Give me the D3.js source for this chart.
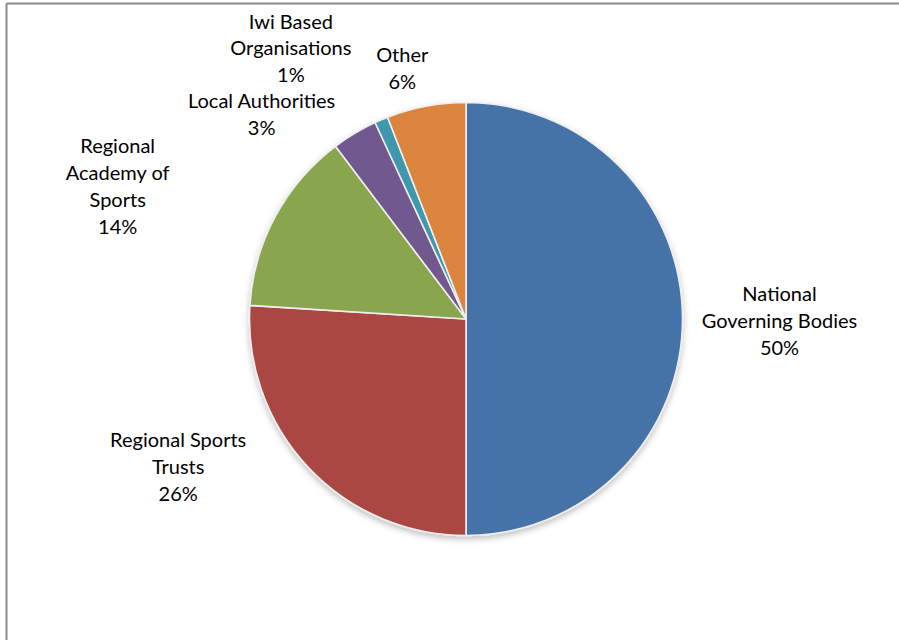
<!DOCTYPE html>
<html>
<head>
<meta charset="utf-8">
<script src="https://cdn.jsdelivr.net/npm/d3@7"></script>
<style>
  html, body { margin: 0; padding: 0; background: #fff; }
  svg text { font-family: Lato, "Open Sans", sans-serif; font-size: 20px; fill: #000; }
</style>
</head>
<body>
<div id="chart"></div>
<script>
// data
const categories = ["National Governing Bodies", "Regional Sports Trusts", "Regional Academy of Sports",
                    "Local Authorities", "Iwi Based Organisations", "Other"];
const shares = [50, 26, 13.7, 3.4, 1, 5.9];
const shareLabels = ["50%", "26%", "14%", "3%", "1%", "6%"];
const labelLines = [
  ["National", "Governing Bodies"],
  ["Regional Sports", "Trusts"],
  ["Regional", "Academy of", "Sports"],
  ["Local Authorities"],
  ["Iwi Based", "Organisations"],
  ["Other"]
];
const colours = ["#4572A7", "#AA4643", "#89A54E", "#71588F", "#4198AF", "#DB843D"];

// layout
const width = 899, height = 640;
const cx = 466, cy = 319, radius = 216.5;
const lineStep = 26.8;
// label nudges away from the label-arc anchor (Excel had them dragged around)
const labelNudge = [[27, 2], [-79, -48], [-96, 3], [-57, 41], [-63, -7], [-11, 31]];

const svg = d3.select("#chart").append("svg")
  .attr("width", width)
  .attr("height", height);

const defs = svg.append("defs");
const shadow = defs.append("filter").attr("id", "shadow")
  .attr("x", "-10%").attr("y", "-10%").attr("width", "120%").attr("height", "125%");
shadow.append("feDropShadow")
  .attr("dx", 0).attr("dy", 3).attr("stdDeviation", 3)
  .attr("flood-color", "#000").attr("flood-opacity", 0.25);

// chart frame (only top and left edges show in the crop)
svg.append("line").attr("x1", 6.5).attr("y1", 3.5).attr("x2", width).attr("y2", 3.5)
  .attr("stroke", "#8a8a8a").attr("stroke-width", 2);
svg.append("line").attr("x1", 6.5).attr("y1", 3.5).attr("x2", 6.5).attr("y2", height)
  .attr("stroke", "#8a8a8a").attr("stroke-width", 2);

const rows = categories.map((c, i) => ({ name: c, value: shares[i], i: i }));

const pie = d3.pie().sort(null).value(d => d.value);
const arcs = pie(rows);
const arc = d3.arc().innerRadius(0).outerRadius(radius);
const labelArc = d3.arc().innerRadius(radius + 70).outerRadius(radius + 70);

const g = svg.append("g").attr("transform", `translate(${cx},${cy})`);

g.append("g").attr("filter", "url(#shadow)")
  .selectAll("path")
  .data(arcs)
  .enter()
  .append("path")
  .attr("d", arc)
  .attr("fill", d => colours[d.data.i])
  .attr("stroke", "#eeeeee")
  .attr("stroke-width", 1.6)
  .attr("stroke-linejoin", "round");

const labels = g.selectAll("text.lbl")
  .data(arcs)
  .enter()
  .append("text")
  .attr("class", "lbl")
  .attr("text-anchor", "middle")
  .each(function(d) {
    const i = d.data.i;
    const c = labelArc.centroid(d);
    const x = c[0] + labelNudge[i][0];
    const y = c[1] + labelNudge[i][1];
    const lines = labelLines[i].concat([shareLabels[i]]);
    const top = y - (lines.length - 1) * lineStep / 2;
    const t = d3.select(this);
    lines.forEach((s, k) => {
      t.append("tspan")
        .attr("x", x)
        .attr("y", top + k * lineStep)
        .attr("dy", "0.35em")
        .text(s);
    });
  });
</script>
</body>
</html>
